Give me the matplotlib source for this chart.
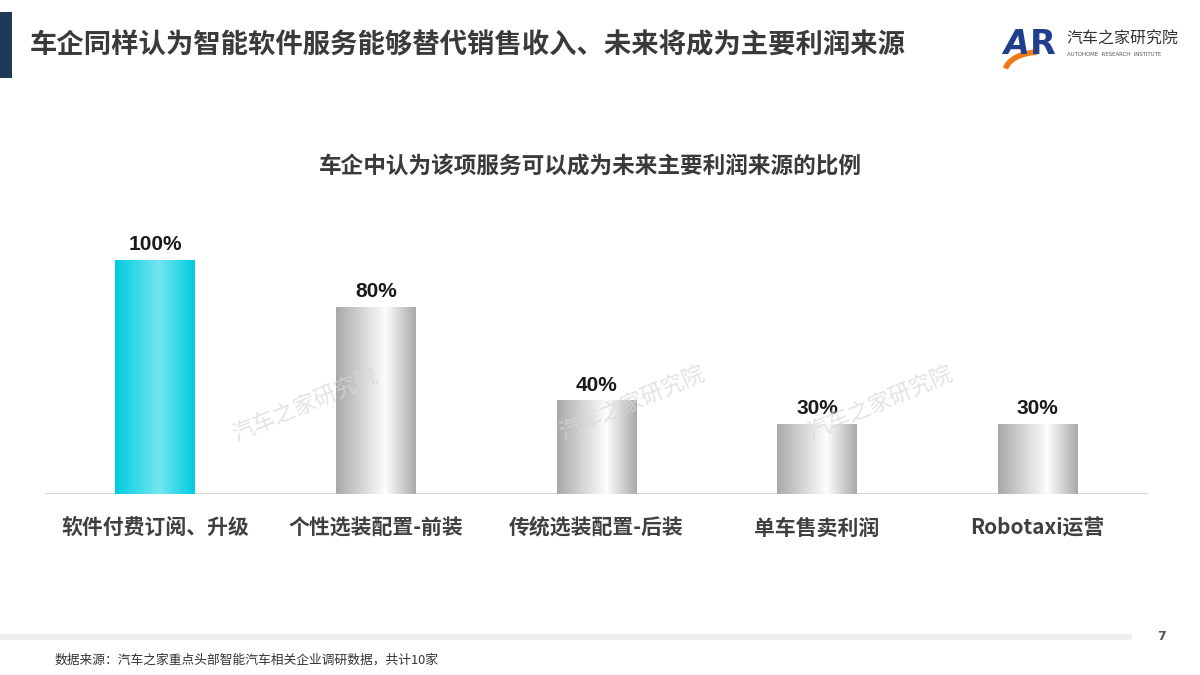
import matplotlib
matplotlib.use("Agg")
import matplotlib.pyplot as plt
import numpy as np
from matplotlib.colors import LinearSegmentedColormap
from matplotlib.patches import Rectangle, Arc

plt.rcParams['font.family'] = ['Noto Sans CJK SC', 'DejaVu Sans']

categories = ["软件付费订阅、升级", "个性选装配置-前装", "传统选装配置-后装", "单车售卖利润", "Robotaxi运营"]
values = [100, 80, 40, 30, 30]
value_labels = ["100%", "80%", "40%", "30%", "30%"]
title = "车企同样认为智能软件服务能够替代销售收入、未来将成为主要利润来源"
subtitle = "车企中认为该项服务可以成为未来主要利润来源的比例"
source = "数据来源：汽车之家重点头部智能汽车相关企业调研数据，共计10家"
watermark = "汽车之家研究院"

W, H = 1200, 675
fig = plt.figure(figsize=(12, 6.75), dpi=100)
fig.patch.set_facecolor("white")

def fx(px):
    return px / W

def fy(py):
    return 1 - py / H

# left accent bar
fig.add_artist(Rectangle((0, fy(78)), fx(12), (78 - 12) / H, transform=fig.transFigure,
                         facecolor="#1E3A56", edgecolor="none"))
fig.text(fx(30), fy(45), title, fontsize=19.7, fontweight="bold", color="#3A3A3A",
         va="center", ha="left")

# logo
fig.text(fx(1003), fy(44), "A", fontsize=24, fontweight="bold", color="#1F3E8C",
         va="center", ha="left", family="DejaVu Sans", style="italic")
fig.text(fx(1030), fy(44), "R", fontsize=24, fontweight="bold", color="#1F3E8C",
         va="center", ha="left", family="DejaVu Sans")
fig.add_artist(Arc((fx(1040), fy(72)), fx(70), 40 / H * 1.0, theta1=95, theta2=170,
                   transform=fig.transFigure, color="#F07A1A", lw=4))
fig.text(fx(1066), fy(39), "汽车之家研究院", fontsize=11.5, color="#333333",
         va="center", ha="left")
fig.text(fx(1067), fy(54), "AUTOHOME  RESEARCH  INSTITUTE", fontsize=3.9, color="#555555",
         va="center", ha="left", family="DejaVu Sans")

fig.text(fx(590), fy(167), subtitle, fontsize=16.3, fontweight="bold", color="#3A3A3A",
         va="center", ha="center")

# axes: baseline at y=494, 100% at y=260
base_px, top100_px, ax_top_px = 494, 260, 200
ax_left, ax_right = 45, 1148
ax = fig.add_axes([fx(ax_left), fy(base_px), fx(ax_right - ax_left), (base_px - ax_top_px) / H])
ax.set_xlim(-0.5, len(categories) - 0.5)
ymax = 100 * (base_px - ax_top_px) / (base_px - top100_px)
ax.set_ylim(0, ymax)
ax.axis("off")
ax.axhline(0, color="#D9D9D9", lw=1.5, zorder=1)

x = np.arange(len(categories))
bar_w = 80 / ((ax_right - ax_left) / len(categories))
bars = ax.bar(x, values, width=bar_w, color="none", edgecolor="none", zorder=2)

cyan_cmap = LinearSegmentedColormap.from_list(
    "cy", [(0, "#00CCE0"), (0.55, "#72E6F0"), (1, "#00CCE0")])
gray_cmap = LinearSegmentedColormap.from_list(
    "gr", [(0, "#A9A9A9"), (0.62, "#FDFDFD"), (1, "#A9A9A9")])
grad = np.linspace(0, 1, 256).reshape(1, -1)
for i, b in enumerate(bars):
    cmap = cyan_cmap if i == 0 else gray_cmap
    x0 = b.get_x()
    x1 = x0 + b.get_width()
    im = ax.imshow(grad, cmap=cmap, extent=[x0, x1, 0, b.get_height()],
                   aspect="auto", zorder=2, interpolation="bilinear")
    im.set_clip_path(b)
    ax.text(b.get_x() + b.get_width() / 2, b.get_height() + 2.5, value_labels[i],
            ha="center", va="bottom", fontsize=15, fontweight="bold",
            color="#1A1A1A", family=["Liberation Sans", "DejaVu Sans"])

for i, c in enumerate(categories):
    ax.text(x[i], -14.5, c, ha="center", va="center", fontsize=15, fontweight="bold",
            color="#404040", clip_on=False)

ax.set_xlim(-0.5, len(categories) - 0.5)

# watermarks
for (px, py) in [(305, 405), (632, 403), (880, 403)]:
    fig.text(fx(px), fy(py), watermark, fontsize=16, color="#D8D8D8", alpha=0.7,
             rotation=23, ha="center", va="center", zorder=10)

# footer
fig.add_artist(Rectangle((0, fy(640)), fx(1132), 6 / H, transform=fig.transFigure,
                         facecolor="#EEEEEE", edgecolor="none"))
fig.text(fx(1162), fy(636), "7", fontsize=9, fontweight="bold", color="#555555",
         ha="center", va="center", family="DejaVu Sans")
fig.text(fx(55), fy(660), source, fontsize=9.2, color="#333333", ha="left", va="center")

fig.savefig("out.png", dpi=100)
